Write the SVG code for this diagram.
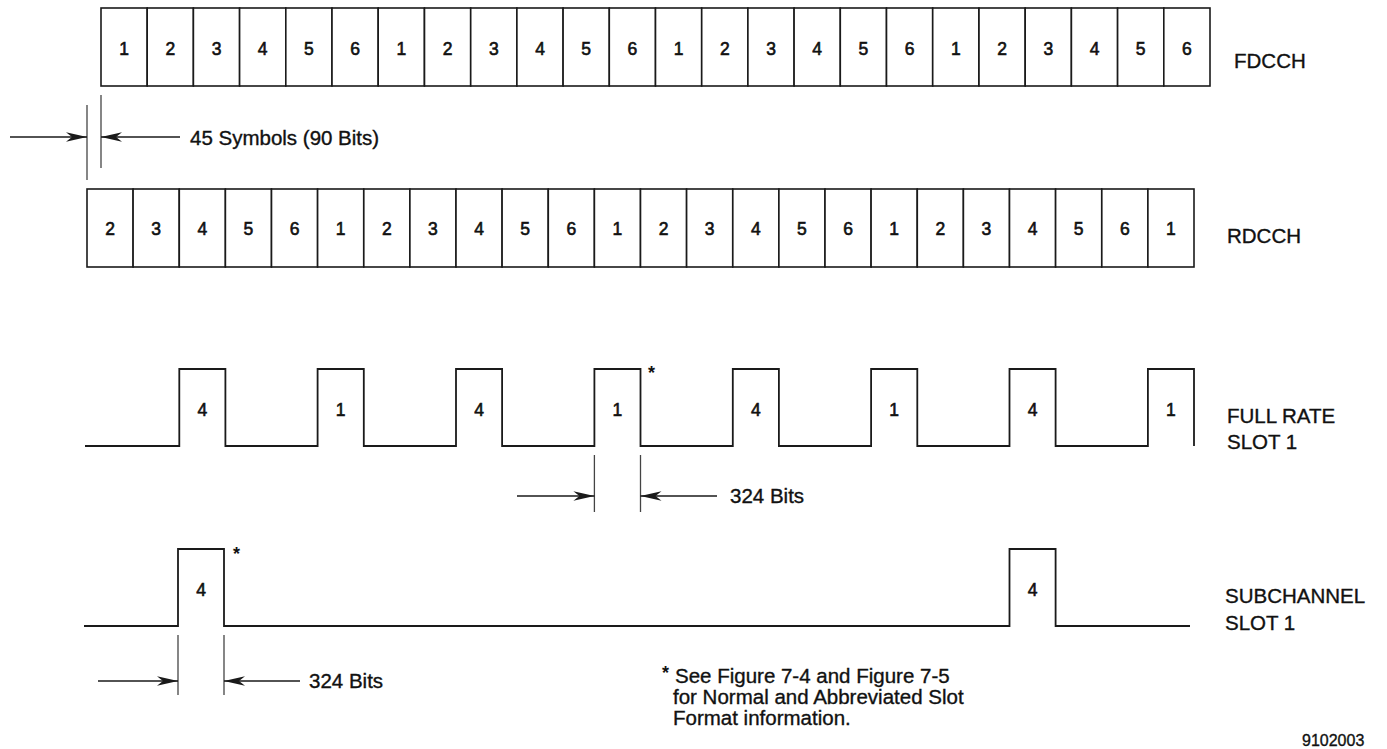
<svg xmlns="http://www.w3.org/2000/svg" width="1387" height="749" viewBox="0 0 1387 749">
<defs>
<style>
.cell{fill:#fff;stroke:#1a1a1a;stroke-width:1.6}
.num{font-family:"Liberation Sans",Arial,sans-serif;font-size:17.5px;fill:#111;stroke:#111;stroke-width:0.6;text-anchor:middle}
.lbl{font-family:"Liberation Sans",Arial,sans-serif;font-size:20.5px;fill:#111;stroke:#111;stroke-width:0.35}
.wave{fill:none;stroke:#1a1a1a;stroke-width:1.8}
.dim{fill:none;stroke:#444;stroke-width:1.3}
.arr{fill:none;stroke:#1a1a1a;stroke-width:1.5;marker-end:url(#ah)}
.ast{font-family:"Liberation Sans",Arial,sans-serif;font-size:18px;font-weight:bold;fill:#111}
</style>
<marker id="ah" markerUnits="userSpaceOnUse" markerWidth="24" markerHeight="12" viewBox="-21 -6 22 12" refX="0" refY="0" orient="auto">
<path d="M0,0 L-21,-4.8 L-15,0 L-21,4.8 Z" fill="#1a1a1a"/>
</marker>
</defs>
<rect width="1387" height="749" fill="#fff"/>

<g id="fdcch">
<g id="f1"><rect class="cell" x="101" y="8" width="46.2" height="78"/><text class="num" x="124.1" y="55">1</text></g>
<g id="f2"><rect class="cell" x="147.2" y="8" width="46.2" height="78"/><text class="num" x="170.3" y="55">2</text></g>
<g id="f3"><rect class="cell" x="193.4" y="8" width="46.2" height="78"/><text class="num" x="216.5" y="55">3</text></g>
<g id="f4"><rect class="cell" x="239.6" y="8" width="46.2" height="78"/><text class="num" x="262.7" y="55">4</text></g>
<g id="f5"><rect class="cell" x="285.8" y="8" width="46.2" height="78"/><text class="num" x="308.9" y="55">5</text></g>
<g id="f6"><rect class="cell" x="332" y="8" width="46.2" height="78"/><text class="num" x="355.1" y="55">6</text></g>
<g id="f7"><rect class="cell" x="378.2" y="8" width="46.2" height="78"/><text class="num" x="401.3" y="55">1</text></g>
<g id="f8"><rect class="cell" x="424.5" y="8" width="46.2" height="78"/><text class="num" x="447.6" y="55">2</text></g>
<g id="f9"><rect class="cell" x="470.7" y="8" width="46.2" height="78"/><text class="num" x="493.8" y="55">3</text></g>
<g id="f10"><rect class="cell" x="516.9" y="8" width="46.2" height="78"/><text class="num" x="540" y="55">4</text></g>
<g id="f11"><rect class="cell" x="563.1" y="8" width="46.2" height="78"/><text class="num" x="586.2" y="55">5</text></g>
<g id="f12"><rect class="cell" x="609.3" y="8" width="46.2" height="78"/><text class="num" x="632.4" y="55">6</text></g>
<g id="f13"><rect class="cell" x="655.5" y="8" width="46.2" height="78"/><text class="num" x="678.6" y="55">1</text></g>
<g id="f14"><rect class="cell" x="701.7" y="8" width="46.2" height="78"/><text class="num" x="724.8" y="55">2</text></g>
<g id="f15"><rect class="cell" x="747.9" y="8" width="46.2" height="78"/><text class="num" x="771" y="55">3</text></g>
<g id="f16"><rect class="cell" x="794.1" y="8" width="46.2" height="78"/><text class="num" x="817.2" y="55">4</text></g>
<g id="f17"><rect class="cell" x="840.3" y="8" width="46.2" height="78"/><text class="num" x="863.4" y="55">5</text></g>
<g id="f18"><rect class="cell" x="886.5" y="8" width="46.2" height="78"/><text class="num" x="909.6" y="55">6</text></g>
<g id="f19"><rect class="cell" x="932.7" y="8" width="46.2" height="78"/><text class="num" x="955.8" y="55">1</text></g>
<g id="f20"><rect class="cell" x="979" y="8" width="46.2" height="78"/><text class="num" x="1002.1" y="55">2</text></g>
<g id="f21"><rect class="cell" x="1025.2" y="8" width="46.2" height="78"/><text class="num" x="1048.3" y="55">3</text></g>
<g id="f22"><rect class="cell" x="1071.4" y="8" width="46.2" height="78"/><text class="num" x="1094.5" y="55">4</text></g>
<g id="f23"><rect class="cell" x="1117.6" y="8" width="46.2" height="78"/><text class="num" x="1140.7" y="55">5</text></g>
<g id="f24"><rect class="cell" x="1163.8" y="8" width="46.2" height="78"/><text class="num" x="1186.9" y="55">6</text></g>
<text class="lbl" x="1234" y="68">FDCCH</text>
</g>

<g id="rdcch">
<g id="r1"><rect class="cell" x="87" y="189" width="46.1" height="78"/><text class="num" x="110.1" y="235">2</text></g>
<g id="r2"><rect class="cell" x="133.1" y="189" width="46.1" height="78"/><text class="num" x="156.2" y="235">3</text></g>
<g id="r3"><rect class="cell" x="179.3" y="189" width="46.1" height="78"/><text class="num" x="202.3" y="235">4</text></g>
<g id="r4"><rect class="cell" x="225.4" y="189" width="46.1" height="78"/><text class="num" x="248.4" y="235">5</text></g>
<g id="r5"><rect class="cell" x="271.5" y="189" width="46.1" height="78"/><text class="num" x="294.6" y="235">6</text></g>
<g id="r6"><rect class="cell" x="317.6" y="189" width="46.1" height="78"/><text class="num" x="340.7" y="235">1</text></g>
<g id="r7"><rect class="cell" x="363.8" y="189" width="46.1" height="78"/><text class="num" x="386.8" y="235">2</text></g>
<g id="r8"><rect class="cell" x="409.9" y="189" width="46.1" height="78"/><text class="num" x="432.9" y="235">3</text></g>
<g id="r9"><rect class="cell" x="456" y="189" width="46.1" height="78"/><text class="num" x="479.1" y="235">4</text></g>
<g id="r10"><rect class="cell" x="502.1" y="189" width="46.1" height="78"/><text class="num" x="525.2" y="235">5</text></g>
<g id="r11"><rect class="cell" x="548.3" y="189" width="46.1" height="78"/><text class="num" x="571.3" y="235">6</text></g>
<g id="r12"><rect class="cell" x="594.4" y="189" width="46.1" height="78"/><text class="num" x="617.4" y="235">1</text></g>
<g id="r13"><rect class="cell" x="640.5" y="189" width="46.1" height="78"/><text class="num" x="663.6" y="235">2</text></g>
<g id="r14"><rect class="cell" x="686.6" y="189" width="46.1" height="78"/><text class="num" x="709.7" y="235">3</text></g>
<g id="r15"><rect class="cell" x="732.8" y="189" width="46.1" height="78"/><text class="num" x="755.8" y="235">4</text></g>
<g id="r16"><rect class="cell" x="778.9" y="189" width="46.1" height="78"/><text class="num" x="801.9" y="235">5</text></g>
<g id="r17"><rect class="cell" x="825" y="189" width="46.1" height="78"/><text class="num" x="848.1" y="235">6</text></g>
<g id="r18"><rect class="cell" x="871.1" y="189" width="46.1" height="78"/><text class="num" x="894.2" y="235">1</text></g>
<g id="r19"><rect class="cell" x="917.3" y="189" width="46.1" height="78"/><text class="num" x="940.3" y="235">2</text></g>
<g id="r20"><rect class="cell" x="963.4" y="189" width="46.1" height="78"/><text class="num" x="986.4" y="235">3</text></g>
<g id="r21"><rect class="cell" x="1009.5" y="189" width="46.1" height="78"/><text class="num" x="1032.6" y="235">4</text></g>
<g id="r22"><rect class="cell" x="1055.6" y="189" width="46.1" height="78"/><text class="num" x="1078.7" y="235">5</text></g>
<g id="r23"><rect class="cell" x="1101.8" y="189" width="46.1" height="78"/><text class="num" x="1124.8" y="235">6</text></g>
<g id="r24"><rect class="cell" x="1147.9" y="189" width="46.1" height="78"/><text class="num" x="1170.9" y="235">1</text></g>
<text class="lbl" x="1227" y="243">RDCCH</text>
</g>

<g id="fullrate">
<path class="wave" d="M85,446 H179.3 V369 H225.4 V446 H317.6 V369 H363.8 V446 H456 V369 H502.1 V446 H594.4 V369 H640.5 V446 H732.8 V369 H778.9 V446 H871.1 V369 H917.3 V446 H1009.5 V369 H1055.6 V446 H1147.9 V369 H1194 V446"/>
<text class="num" x="202.3" y="416">4</text>
<text class="num" x="340.7" y="416">1</text>
<text class="num" x="479.1" y="416">4</text>
<text class="num" x="617.4" y="416">1</text>
<text class="num" x="755.8" y="416">4</text>
<text class="num" x="894.2" y="416">1</text>
<text class="num" x="1032.6" y="416">4</text>
<text class="num" x="1170.9" y="416">1</text>
<text class="ast" x="648" y="379">*</text>
<text class="lbl" x="1227" y="423">FULL RATE</text>
<text class="lbl" x="1227" y="449">SLOT 1</text>
</g>

<g id="subchannel">
<path class="wave" d="M84,626 H178 V549 H224 V626 H1009.5 V549 H1055.6 V626 H1190"/>
<text class="num" x="201" y="596">4</text>
<text class="num" x="1032.6" y="596">4</text>
<text class="ast" x="233" y="560">*</text>
<text class="lbl" x="1225" y="603">SUBCHANNEL</text>
<text class="lbl" x="1225" y="630">SLOT 1</text>
</g>

<g id="connectors">
<line class="dim" x1="87" y1="105" x2="87" y2="180"/>
<line class="dim" x1="101" y1="95" x2="101" y2="168"/>
<line class="arr" x1="10" y1="137" x2="87" y2="137"/>
<line class="arr" x1="180" y1="137" x2="101" y2="137"/>
<line class="dim" x1="594.4" y1="455" x2="594.4" y2="512"/>
<line class="dim" x1="640.5" y1="455" x2="640.5" y2="512"/>
<line class="arr" x1="517" y1="496" x2="594.4" y2="496"/>
<line class="arr" x1="717" y1="496" x2="640.5" y2="496"/>
<line class="dim" x1="178" y1="635" x2="178" y2="695"/>
<line class="dim" x1="224" y1="635" x2="224" y2="695"/>
<line class="arr" x1="98" y1="681" x2="178" y2="681"/>
<line class="arr" x1="300" y1="681" x2="224" y2="681"/>
</g>

<g id="labels">
<text class="lbl" x="190" y="145">45 Symbols (90 Bits)</text>
<text class="lbl" x="730" y="503">324 Bits</text>
<text class="lbl" x="309" y="688">324 Bits</text>
<text class="ast" x="662" y="679">*</text>
<text class="lbl" x="675" y="683">See Figure 7-4 and Figure 7-5</text>
<text class="lbl" x="673" y="704">for Normal and Abbreviated Slot</text>
<text class="lbl" x="673" y="725">Format information.</text>
<text class="lbl" x="1302" y="746" style="font-size:16px">9102003</text>
</g>
</svg>
